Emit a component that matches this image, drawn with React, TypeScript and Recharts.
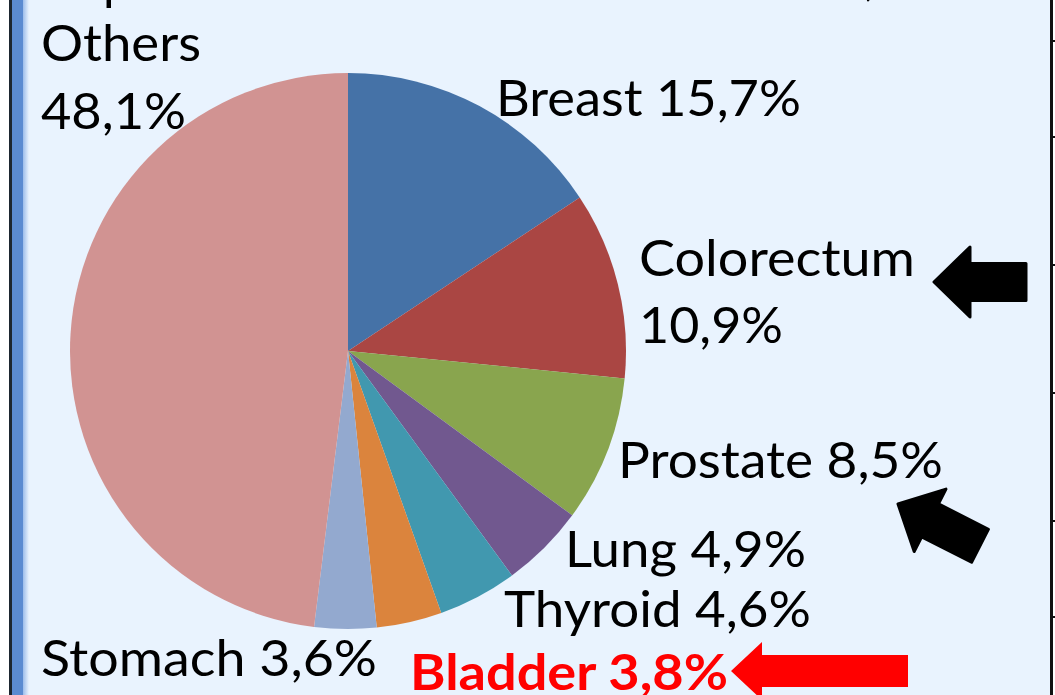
import React from 'react';
import { PieChart, Pie, Cell } from 'recharts';

// ---- data ----
const categories = ['Breast', 'Colorectum', 'Prostate', 'Lung', 'Thyroid', 'Bladder', 'Stomach', 'Others'];
const shares = [15.7, 10.9, 8.5, 4.9, 4.6, 3.8, 3.6, 48.1];
const labelLines = [
  ['Breast 15,7%'],
  ['Colorectum', '10,9%'],
  ['Prostate 8,5%'],
  ['Lung 4,9%'],
  ['Thyroid 4,6%'],
  ['Bladder 3,8%'],
  ['Stomach 3,6%'],
  ['Others', '48,1%'],
];
const sliceColors = ['#4572A7', '#AA4643', '#89A54E', '#71588F', '#4198AF', '#DB843D', '#93A9CF', '#D19392'];

const data = categories.map((name, i) => ({ name, value: shares[i] }));

// label layout (annotation positions)
const LABEL_LAYOUT: Record<string, { x: number; ys: number[]; widths: number[]; bold?: boolean; color?: string }> = {
  Breast: { x: 496, ys: [116], widths: [305] },
  Colorectum: { x: 639, ys: [276, 343], widths: [276, 144] },
  Prostate: { x: 618, ys: [478], widths: [325] },
  Lung: { x: 565, ys: [567], widths: [241] },
  Thyroid: { x: 504, ys: [627], widths: [307] },
  Bladder: { x: 410, ys: [690], widths: [318], bold: true, color: '#FF0000' },
  Stomach: { x: 41, ys: [676], widths: [336] },
  Others: { x: 41, ys: [61, 129], widths: [160, 145] },
};

const FONT = 'Lato, "Open Sans", sans-serif';

const renderLabel = (props: any) => {
  const name: string = props?.name ?? props?.payload?.name ?? categories[props.index];
  const idx = categories.indexOf(name);
  const lay = LABEL_LAYOUT[name];
  if (!lay) return null;
  return (
    <g key={`lbl-${name}`}>
      {labelLines[idx].map((t, j) => (
        <text
          key={j}
          x={lay.x}
          y={lay.ys[j]}
          textLength={lay.widths[j]}
          lengthAdjust="spacingAndGlyphs"
          fontFamily={FONT}
          fontSize={50}
          fontWeight={lay.bold ? 700 : 400}
          fill={lay.color || '#000'}
          textAnchor="start"
        >
          {t}
        </text>
      ))}
    </g>
  );
};

const arrowShape = (headLen: number, headHalf: number, shaftHalf: number, total: number) =>
  `0,0 ${headLen},${-headHalf} ${headLen},${-shaftHalf} ${total},${-shaftHalf} ${total},${shaftHalf} ${headLen},${shaftHalf} ${headLen},${headHalf}`;

const tickYs = [41, 137, 265, 393, 521, 617];

export default function App() {
  return (
    <div style={{ position: 'fixed', left: 0, top: 0, width: 1055, height: 695, background: '#ffffff', overflow: 'hidden' }}>
      <div style={{ position: 'absolute', left: 12, top: 0, width: 1039, height: 695, background: '#E9F3FE' }} />
      <div style={{ position: 'absolute', left: 0, top: 0 }}>
        <PieChart width={1055} height={695} margin={{ top: 0, right: 0, bottom: 0, left: 0 }}>
          <Pie
            data={data}
            dataKey="value"
            nameKey="name"
            cx={348}
            cy={351}
            outerRadius={278}
            innerRadius={0}
            startAngle={90}
            endAngle={-270}
            stroke="none"
            isAnimationActive={false}
            label={renderLabel}
            labelLine={false}
          >
            {data.map((d, i) => (
              <Cell key={d.name} fill={sliceColors[i]} stroke="none" />
            ))}
          </Pie>
        </PieChart>
      </div>
      <svg width={1055} height={695} style={{ position: 'absolute', left: 0, top: 0, pointerEvents: 'none' }}>
        <defs>
          <linearGradient id="edge" x1="0" x2="1" y1="0" y2="0">
            <stop offset="0" stopColor="#9dbdea" />
            <stop offset="1" stopColor="#E9F3FE" />
          </linearGradient>
        </defs>
        {/* left frame */}
        <rect x={9} y={0} width={3} height={695} fill="#1d2630" />
        <rect x={12} y={0} width={11} height={695} fill="#5B8BD1" />
        <rect x={23} y={0} width={6} height={695} fill="url(#edge)" />
        {/* right axis line with ticks */}
        <rect x={1050} y={0} width={3} height={695} fill="#111" />
        {tickYs.map((y) => (
          <rect key={y} x={1053} y={y - 1} width={2} height={2} fill="#111" />
        ))}
        {/* cut-off title fragments */}
        <text x={103} y={-1} fontFamily={FONT} fontSize={50} fill="#000">p</text>
        <text x={864} y={-5} fontFamily={FONT} fontSize={50} fill="#000">,</text>
        {/* arrows */}
        <polygon
          points={arrowShape(36, 35, 18.5, 92)}
          transform="translate(934,282)"
          fill="#000"
          stroke="#000"
          strokeWidth={3}
          strokeLinejoin="round"
        />
        <polygon
          points={arrowShape(36, 35, 18.5, 92)}
          transform="translate(898,504) rotate(27)"
          fill="#000"
          stroke="#000"
          strokeWidth={3}
          strokeLinejoin="round"
        />
        <polygon
          points={arrowShape(31, 29, 16, 177)}
          transform="translate(731,671)"
          fill="#FF0000"
        />
      </svg>
    </div>
  );
}
